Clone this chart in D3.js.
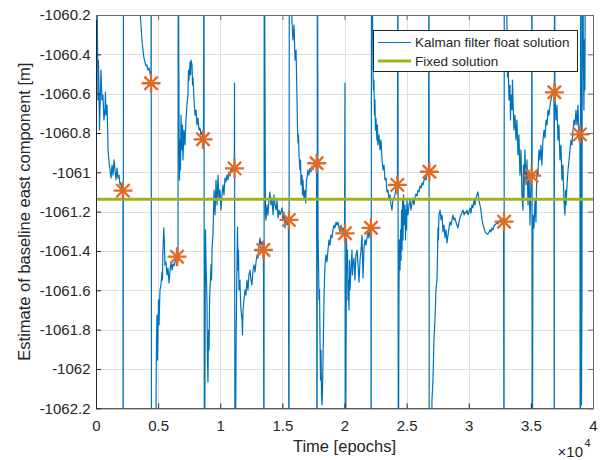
<!DOCTYPE html>
<html><head><meta charset="utf-8">
<script src="https://cdn.jsdelivr.net/npm/d3@7"></script>
<style>body{margin:0;background:#fff;} text{font-family:"Liberation Sans",Arial,Helvetica,sans-serif;fill:#262626;}</style>
</head><body><svg id="c" width="600" height="460"></svg>
<script>
// ---------------- data ----------------
const xTicks = [0, 5000, 10000, 15000, 20000, 25000, 30000, 35000, 40000];
const xTickLabels = ["0", "0.5", "1", "1.5", "2", "2.5", "3", "3.5", "4"];
const yTicks = [-1062.2, -1062, -1061.8, -1061.6, -1061.4, -1061.2, -1061, -1060.8, -1060.6, -1060.4, -1060.2];
const yTickLabels = ["-1062.2", "-1062", "-1061.8", "-1061.6", "-1061.4", "-1061.2", "-1061", "-1060.8", "-1060.6", "-1060.4", "-1060.2"];
const seriesNames = ["Kalman filter float solution", "Fixed solution"];
const fixedEast = -1061.137;
const starEpoch = [2170, 4430, 6520, 8610, 11150, 13470, 15530, 17760, 20040, 22130, 24250, 26830, 32840, 35060, 36890, 38950];
const starEast = [-1061.093, -1060.547, -1061.429, -1060.832, -1060.98, -1061.395, -1061.242, -1060.954, -1061.31, -1061.282, -1061.064, -1060.997, -1061.251, -1061.017, -1060.593, -1060.807];
// [epoch, east estimate] ; -1059.5 / -1063 are off-scale reset spikes
const kalmanFloat = [
[0,-1063],[20,-1059.5],[120,-1060.327],[160,-1060.632],[200,-1060.429],[280,-1060.785],[360,-1060.581],[400,-1060.48],[480,-1060.632],[560,-1060.607],[640,-1060.734],[720,-1060.683],[760,-1060.592],[800,-1060.709],[890,-1060.658],[930,-1060.759],[970,-1060.886],[1050,-1060.948],[1130,-1060.988],[1210,-1061.029],[1290,-1060.963],[1370,-1061.014],[1450,-1060.937],[1530,-1060.988],[1610,-1061.039],[1690,-1060.978],[1770,-1061.029],[1850,-1061.014],[1930,-1061.064],[2010,-1061.054],[2090,-1061.09],[2170,-1061.085],
[2190,-1063],[2210,-1059.5],[3380,-1059.5],
[3540,-1060.175],[3620,-1060.251],[3700,-1060.327],[3780,-1060.378],[3860,-1060.419],[3940,-1060.439],[4020,-1060.459],[4100,-1060.454],[4180,-1060.48],[4270,-1060.47],[4350,-1060.495],[4430,-1060.531],
[4440,-1059.5],[4470,-1063],[4750,-1063],
[4830,-1062.198],[4870,-1061.853],[4910,-1061.726],[4950,-1061.954],[4990,-1061.802],[5030,-1061.649],[5070,-1061.776],[5150,-1061.598],[5230,-1061.573],[5310,-1061.507],[5350,-1061.548],[5390,-1061.395],[5450,-1061.283],[5500,-1061.344],[5550,-1061.471],[5630,-1061.456],[5710,-1061.522],[5790,-1061.487],[5880,-1061.563],[5960,-1061.497],[6040,-1061.456],[6120,-1061.497],[6200,-1061.466],[6280,-1061.476],[6360,-1061.456],[6520,-1061.436],
[6600,-1061.456],[6620,-1059.5],
[6680,-1060.734],[6720,-1061.039],[6760,-1060.836],[6800,-1060.988],[6840,-1060.709],[6920,-1060.886],[6960,-1060.759],[7000,-1060.937],[7080,-1060.785],[7160,-1060.861],[7240,-1060.734],[7320,-1060.658],[7400,-1060.607],[7440,-1060.48],[7480,-1060.531],[7570,-1060.439],[7610,-1060.505],[7650,-1060.429],[7730,-1060.454],[7770,-1060.556],[7810,-1060.52],[7890,-1060.632],[7970,-1060.709],[8050,-1060.683],[8130,-1060.759],[8210,-1060.724],[8290,-1060.785],[8370,-1060.775],[8450,-1060.81],[8530,-1060.795],[8650,-1060.831],
[8690,-1059.5],[8720,-1063],
[8810,-1061.293],[8850,-1061.446],[8930,-1061.649],[8970,-1061.954],[9010,-1062.066],[9060,-1061.802],[9100,-1061.904],[9140,-1061.649],[9180,-1061.588],[9260,-1061.471],[9300,-1061.548],[9340,-1061.395],[9420,-1061.303],[9500,-1061.09],[9580,-1061.217],[9660,-1061.039],[9740,-1061.166],[9820,-1061.014],[9900,-1061.141],[9980,-1061.09],[10060,-1061.192],[10140,-1061.115],[10220,-1061.064],[10300,-1061.115],[10380,-1061.029],[10460,-1061.049],[10540,-1061.014],[10620,-1061.039],[10700,-1060.998],[10780,-1061.019],[10860,-1060.978],[10950,-1060.998],[11030,-1060.973],[11130,-1060.978],
[11150,-1060.546],[11190,-1063],
[11270,-1061.904],[11350,-1061.446],[11390,-1061.278],[11430,-1061.497],[11470,-1061.395],[11510,-1061.598],[11590,-1061.548],[11630,-1061.649],[11670,-1061.7],[11750,-1061.751],[11790,-1061.827],[11830,-1061.7],[11910,-1061.649],[11990,-1061.598],[12070,-1061.624],[12150,-1061.548],[12230,-1061.598],[12310,-1061.522],[12390,-1061.497],[12470,-1061.548],[12550,-1061.573],[12640,-1061.497],[12720,-1061.471],[12800,-1061.507],[12880,-1061.456],[12960,-1061.42],[13040,-1061.436],[13120,-1061.37],[13200,-1061.334],[13280,-1061.37],[13360,-1061.354],[13480,-1061.395],
[13520,-1063],[13540,-1059.5],
[13640,-1061.217],[13680,-1061.242],[13760,-1061.166],[13840,-1061.217],[13920,-1061.141],[14000,-1061.1],[14080,-1061.166],[14160,-1061.131],[14250,-1061.217],[14330,-1061.115],[14410,-1061.166],[14490,-1061.192],[14570,-1061.141],[14650,-1061.232],[14730,-1061.192],[14810,-1061.217],[14890,-1061.202],[14970,-1061.181],[15050,-1061.242],[15130,-1061.202],[15210,-1061.283],[15290,-1061.232],[15370,-1061.268],[15490,-1061.242],
[15530,-1063],[15560,-1059.5],[15690,-1059.5],
[15770,-1060.225],[15850,-1060.327],[15940,-1060.251],[16020,-1060.429],[16100,-1060.378],[16180,-1060.632],[16220,-1060.785],[16260,-1060.851],[16300,-1060.81],[16340,-1060.912],[16420,-1060.988],[16460,-1060.937],[16500,-1061.064],[16580,-1061.014],[16620,-1061.115],[16660,-1061.039],[16740,-1061.141],[16820,-1061.09],[16880,-1061.156],[16940,-1061.039],[16980,-1061.029],[17060,-1060.988],[17140,-1061.014],[17220,-1060.978],[17300,-1060.998],[17380,-1060.968],[17460,-1060.988],[17550,-1060.953],[17630,-1060.973],[17750,-1060.953],
[17790,-1063],[17820,-1059.5],
[17870,-1061.293],[17910,-1061.471],[17950,-1061.649],[17990,-1061.598],[18030,-1061.853],[18070,-1062.056],[18110,-1061.904],[18150,-1062.132],[18190,-1062.183],[18230,-1062.107],[18270,-1061.954],[18310,-1061.802],[18350,-1061.649],[18390,-1061.548],[18430,-1061.471],[18510,-1061.42],[18590,-1061.456],[18670,-1061.395],[18750,-1061.344],[18830,-1061.37],[18910,-1061.319],[18990,-1061.334],[19070,-1061.293],[19150,-1061.268],[19230,-1061.283],[19320,-1061.253],[19400,-1061.268],[19480,-1061.253],[19560,-1061.283],[19640,-1061.303],[19720,-1061.268],[19800,-1061.303],[19880,-1061.283],[20000,-1061.308],
[20040,-1060.546],[20060,-1063],
[20160,-1061.334],[20200,-1061.497],[20240,-1061.395],[20280,-1061.649],[20320,-1061.548],[20360,-1061.7],[20400,-1061.446],[20440,-1061.598],[20520,-1061.497],[20600,-1061.395],[20640,-1061.522],[20680,-1061.471],[20760,-1061.436],[20840,-1061.548],[20920,-1061.42],[21010,-1061.395],[21090,-1061.471],[21170,-1061.558],[21250,-1061.446],[21330,-1061.395],[21410,-1061.319],[21490,-1061.537],[21570,-1061.385],[21650,-1061.344],[21730,-1061.37],[21810,-1061.334],[21890,-1061.303],[21970,-1061.334],[22050,-1061.293],[22130,-1061.283],
[22150,-1063],[22170,-1059.5],
[22290,-1060.48],[22330,-1060.581],[22370,-1060.531],[22410,-1060.709],[22450,-1060.632],[22490,-1060.785],[22530,-1060.724],[22610,-1060.836],[22650,-1060.759],[22690,-1060.861],[22780,-1060.81],[22860,-1060.886],[22940,-1060.836],[23020,-1060.937],[23100,-1060.988],[23180,-1060.963],[23260,-1061.039],[23340,-1061.029],[23420,-1061.1],[23500,-1061.09],[23580,-1061.141],[23660,-1061.115],[23740,-1061.166],[23820,-1061.192],[23900,-1061.141],[23980,-1061.131],[24060,-1061.115],[24140,-1061.08],[24260,-1061.064],
[24300,-1059.5],[24330,-1063],
[24380,-1061.624],[24420,-1061.344],[24470,-1061.497],[24510,-1061.293],[24550,-1061.446],[24590,-1061.192],[24630,-1061.395],[24670,-1061.141],[24710,-1061.344],[24750,-1061.115],[24790,-1061.268],[24870,-1061.166],[24910,-1061.344],[24950,-1061.192],[24990,-1061.293],[25030,-1061.141],[25110,-1061.217],[25190,-1061.166],[25270,-1061.141],[25350,-1061.192],[25430,-1061.156],[25510,-1061.131],[25590,-1061.166],[25680,-1061.126],[25760,-1061.11],[25840,-1061.12],[25920,-1061.09],[26000,-1061.1],[26080,-1061.07],[26160,-1061.08],[26240,-1061.054],[26320,-1061.064],[26400,-1061.039],[26480,-1061.029],[26560,-1061.039],[26640,-1061.014],[26760,-1060.998],
[26800,-1059.5],[26820,-1063],[26960,-1063],
[27040,-1062.158],[27120,-1062.056],[27200,-1061.853],[27280,-1061.751],[27360,-1061.598],[27440,-1061.548],[27480,-1061.446],[27520,-1061.283],[27560,-1061.344],[27600,-1061.217],[27690,-1061.192],[27770,-1061.242],[27850,-1061.217],[27930,-1061.303],[28010,-1061.268],[28090,-1061.334],[28170,-1061.293],[28250,-1061.359],[28330,-1061.319],[28410,-1061.283],[28490,-1061.253],[28570,-1061.268],[28650,-1061.242],[28730,-1061.217],[28810,-1061.242],[28890,-1061.232],[28970,-1061.253],[29050,-1061.268],[29130,-1061.283],[29210,-1061.253],[29290,-1061.232],[29380,-1061.217],[29460,-1061.202],[29540,-1061.192],[29620,-1061.217],[29700,-1061.202],[29780,-1061.207],[29860,-1061.192],[29940,-1061.217],[30020,-1061.202],[30100,-1061.181],[30180,-1061.207],[30260,-1061.166],[30340,-1061.181],[30420,-1061.141],[30500,-1061.166],[30580,-1061.131],[30660,-1061.115],[30740,-1061.1],[30820,-1061.141],[30900,-1061.166],[30980,-1061.192],[31070,-1061.242],[31150,-1061.268],[31230,-1061.283],[31310,-1061.303],[31390,-1061.308],[31470,-1061.314],[31550,-1061.314],[31630,-1061.303],[31710,-1061.293],[31790,-1061.303],[31870,-1061.283],[31950,-1061.293],[32030,-1061.273],[32110,-1061.268],[32190,-1061.263],[32270,-1061.253],[32350,-1061.263],[32430,-1061.253],[32510,-1061.242],[32590,-1061.253],[32680,-1061.237],[32800,-1061.253],
[32840,-1063],[32860,-1059.5],[33000,-1059.5],
[33080,-1060.327],[33120,-1060.515],[33160,-1060.429],[33240,-1060.632],[33320,-1060.556],[33360,-1060.734],[33400,-1060.607],[33480,-1060.683],[33520,-1060.531],[33560,-1060.632],[33640,-1060.785],[33720,-1060.709],[33800,-1060.836],[33880,-1060.734],[33960,-1060.912],[34040,-1060.81],[34120,-1061.014],[34200,-1060.886],[34280,-1061.115],[34360,-1061.192],[34400,-1060.963],[34440,-1061.141],[34520,-1060.886],[34610,-1061.064],[34690,-1060.937],[34770,-1061.166],[34850,-1060.988],[34930,-1061.268],[35010,-1061.039],[35060,-1061.019],
[35090,-1059.5],[35110,-1063],
[35170,-1061.217],[35250,-1061.283],[35330,-1061.141],[35410,-1061.253],[35450,-1061.09],[35490,-1060.988],[35570,-1061.014],[35650,-1060.886],[35730,-1060.937],[35810,-1060.861],[35890,-1060.963],[35970,-1060.836],[36060,-1060.785],[36140,-1060.825],[36220,-1060.734],[36300,-1060.759],[36380,-1060.683],[36460,-1060.709],[36540,-1060.658],[36620,-1060.632],[36700,-1060.607],[36780,-1060.597],[36860,-1060.592],
[36880,-1063],[36900,-1059.5],
[36940,-1060.607],[37020,-1060.734],[37100,-1060.658],[37180,-1060.836],[37260,-1060.759],[37340,-1060.937],[37420,-1060.861],[37500,-1061.039],[37580,-1060.963],[37660,-1061.141],[37740,-1061.217],[37790,-1061.09],[37830,-1061.166],[37910,-1061.064],[37990,-1060.988],[38070,-1060.937],[38150,-1060.886],[38230,-1060.836],[38310,-1060.861],[38390,-1060.785],[38470,-1060.734],[38550,-1060.759],[38630,-1060.683],[38710,-1060.759],[38790,-1060.658],[38870,-1060.836],[38950,-1060.805],
[38970,-1063],[39010,-1059.5],[39070,-1062.183],[39110,-1061.649],[39150,-1059.5],[39230,-1060.429],[39270,-1060.683],[39310,-1060.327],[39350,-1060.581],[39390,-1059.5]
];

// ---------------- drawing ----------------
const BLUE = "#0072BD", OLIVE = "#A3B21C", ORANGE = "#E06A24", AX = "#262626";
const svg = d3.select("#c");
const X0 = 96, X1 = 593, Y0 = 15, Y1 = 408.3;
const xs = d3.scaleLinear().domain([0, 40000]).range([X0, X1]);
const ys = d3.scaleLinear().domain([-1062.2, -1060.2]).range([Y1, Y0]);

svg.append("rect").attr("width", 600).attr("height", 460).attr("fill", "#fff");

// grid
const grid = svg.append("g").attr("stroke", "#e0e0e0").attr("stroke-width", 1);
grid.selectAll("line.gx").data(xTicks).join("line").attr("class", "gx")
  .attr("x1", d => Math.round(xs(d)) + 0.5).attr("x2", d => Math.round(xs(d)) + 0.5).attr("y1", Y0).attr("y2", Y1);
grid.selectAll("line.gy").data(yTicks).join("line").attr("class", "gy")
  .attr("y1", d => Math.round(ys(d)) + 0.5).attr("y2", d => Math.round(ys(d)) + 0.5).attr("x1", X0).attr("x2", X1);

svg.append("defs").append("clipPath").attr("id", "clip").append("rect")
  .attr("x", X0).attr("y", Y0).attr("width", X1 - X0).attr("height", Y1 - Y0);

const lineGen = d3.line().x(d => xs(d[0])).y(d => ys(d[1]));
svg.append("path").datum(kalmanFloat).attr("clip-path", "url(#clip)")
  .attr("d", lineGen).attr("fill", "none").attr("stroke", BLUE).attr("stroke-width", 1.2).attr("stroke-linejoin", "round");

svg.append("line").attr("x1", xs(0)).attr("x2", xs(40000)).attr("y1", ys(fixedEast)).attr("y2", ys(fixedEast))
  .attr("stroke", OLIVE).attr("stroke-width", 3);

// asterisk markers
const r = 9.5, a = r * 0.7;
const starPath = `M0,${-r}V${r}M${-r},0H${r}M${-a},${-a}L${a},${a}M${-a},${a}L${a},${-a}`;
svg.append("g").selectAll("path").data(starEpoch).join("path")
  .attr("transform", (d, i) => `translate(${xs(d)},${ys(starEast[i])})`)
  .attr("d", starPath).attr("fill", "none").attr("stroke", ORANGE).attr("stroke-width", 2.3);

// axes
const fs = 15;
const axB = svg.append("g").attr("transform", `translate(0,${Y1})`)
  .call(d3.axisBottom(xs).tickValues(xTicks).tickFormat((d, i) => xTickLabels[i]).tickSizeInner(-5).tickSizeOuter(0).tickPadding(12.5));
const axL = svg.append("g").attr("transform", `translate(${X0},0)`)
  .call(d3.axisLeft(ys).tickValues(yTicks).tickFormat((d, i) => yTickLabels[i]).tickSizeInner(-5).tickSizeOuter(0).tickPadding(5.5));
const axT = svg.append("g").attr("transform", `translate(0,${Y0})`)
  .call(d3.axisTop(xs).tickValues(xTicks).tickFormat("").tickSizeInner(-5).tickSizeOuter(0));
const axR = svg.append("g").attr("transform", `translate(${X1},0)`)
  .call(d3.axisRight(ys).tickValues(yTicks).tickFormat("").tickSizeInner(-5).tickSizeOuter(0));
[axB, axL, axT, axR].forEach(g => {
  g.selectAll("path,line").attr("stroke", AX);
  g.selectAll("text").attr("font-size", fs).attr("fill", AX).attr("font-family", "Liberation Sans, Arial, sans-serif");
});
axT.selectAll("path,line").attr("stroke", "#6a6a6a");
axR.selectAll("path,line").attr("stroke", "#6a6a6a");

// labels
svg.append("text").attr("x", (X0 + X1) / 2).attr("y", 452).attr("text-anchor", "middle")
  .attr("font-size", 16.5).text("Time [epochs]");
svg.append("text").attr("transform", `translate(30,${(Y0 + Y1) / 2}) rotate(-90)`).attr("text-anchor", "middle")
  .attr("font-size", 16.5).text("Estimate of baseline east component [m]");
svg.append("text").attr("x", 583).attr("y", 457).attr("text-anchor", "end").attr("font-size", 15).text("\u00d710");
svg.append("text").attr("x", 584.5).attr("y", 447).attr("font-size", 11).text("4");

// legend
const lg = svg.append("g");
lg.append("rect").attr("x", 373.5).attr("y", 30.5).attr("width", 204).attr("height", 41)
  .attr("fill", "#fff").attr("stroke", AX).attr("stroke-width", 1);
lg.append("line").attr("x1", 378).attr("x2", 411).attr("y1", 42.5).attr("y2", 42.5).attr("stroke", BLUE).attr("stroke-width", 1.2);
lg.append("line").attr("x1", 378).attr("x2", 411).attr("y1", 61).attr("y2", 61).attr("stroke", OLIVE).attr("stroke-width", 3);
lg.append("text").attr("x", 415).attr("y", 47.3).attr("font-size", 13.5).text(seriesNames[0]);
lg.append("text").attr("x", 415).attr("y", 66).attr("font-size", 13.5).text(seriesNames[1]);
</script></body></html>
